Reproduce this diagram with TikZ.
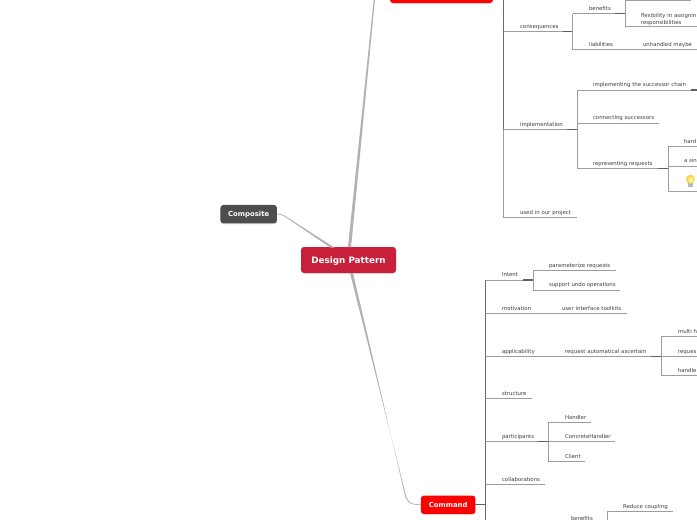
\documentclass[tikz,border=0pt]{standalone}
\usepackage{fontspec}
\setmainfont{DejaVu Sans}
\usetikzlibrary{calc,shadows}
\definecolor{rootred}{HTML}{C8203A}
\definecolor{topicred}{HTML}{FF0000}
\definecolor{topicgrey}{HTML}{4D4D4B}
\definecolor{linkgrey}{HTML}{B2B2B2}
\definecolor{textgrey}{HTML}{404040}
\definecolor{bulbyellow}{HTML}{F9CF3A}
\tikzset{
  every node/.style={font=\fontsize{5.4}{7}\selectfont},
  lbl/.style={anchor=south west,inner xsep=0pt,inner ysep=3.1pt,outer sep=0pt,text=textgrey,text depth=0pt,align=left},
  w/.style={text width=#1 pt},
  topic/.style={rounded corners=3pt,draw=none,inner sep=0pt,outer sep=0pt,text=white,
    font=\fontsize{6.9}{8}\selectfont\bfseries,drop shadow={opacity=.18,shadow xshift=0pt,shadow yshift=-.8pt}},
  branch/.style={draw=linkgrey!88!black,line width=1pt},
  trunk/.style={draw=black!58,line width=1pt},
  stub/.style={draw=black!62,line width=1.1pt},
  link/.style={fill=linkgrey,draw=none}
}
\begin{document}
\begin{tikzpicture}[x=1pt,y=-1pt]
\useasboundingbox (0,0) rectangle (697,520);
\clip (0,0) rectangle (697,520);
\fill[white] (0,0) rectangle (697,520);

% main topics
\node[topic,fill=rootred,minimum width=95pt,minimum height=26pt,text depth=0pt,font=\fontsize{8.8}{10}\selectfont\bfseries] (root) at (348.5,260) {Design Pattern};
\node[topic,fill=topicgrey,minimum width=56.5pt,minimum height=18.5pt] (composite) at (248.7,214.2) {Composite};
\node[topic,fill=topicred,minimum width=103pt,minimum height=30pt] (chain) at (441.5,-12) {};
\node[topic,fill=topicred,minimum width=54.5pt,minimum height=18.5pt] (command) at (448.2,504.8) {Command};

% tapered links from the root
\path[link] ($(root.north)+(-.5,0)$) -- ($(chain.west)+(-13,-20)$) -- ($(chain.west)+(-12,-20)$) -- ($(root.north)+(2.6,0)$) -- cycle;
\path[link] ($(root.south)+(1.5,0)$) -- ($(command.west)+(-15.6,-12)$)
  .. controls ($(command.west)+(-14,-3)$) and ($(command.west)+(-11,-.6)$) .. ($(command.west)+(0,-.4)$)
  -- ($(command.west)+(0,.3)$)
  .. controls ($(command.west)+(-12,.3)$) and ($(command.west)+(-15,-3)$) .. ($(command.west)+(-16.6,-12)$)
  -- ($(root.south)+(4.5,0)$) -- cycle;
\path[link] ($(root.north)+(-14,.6)$) -- ($(composite.east)+(8,1.6)$)
  .. controls ($(composite.east)+(5,-.4)$) and ($(composite.east)+(3,-.4)$) .. ($(composite.east)+(0,-.4)$)
  -- ($(composite.east)+(0,.3)$)
  .. controls ($(composite.east)+(3,.3)$) and ($(composite.east)+(5,.6)$) .. ($(composite.east)+(7.5,2.2)$)
  -- ($(root.north)+(-18,.6)$) -- cycle;

% upper tree
\coordinate (ttop) at (503.5,-10);
\node[lbl,w=42] (conseq) at (520,31.7) {consequences};
\node[lbl,w=84] (impl) at (520,129.3) {implementation};
\node[lbl,w=57] (used) at (520,217.7) {used in our project};
\draw[trunk] (ttop) -- (ttop |- impl.south);
\draw[branch] (ttop |- impl.south) -- (ttop |- used.south);
\draw[branch] (ttop |- conseq.south) -- (conseq.south east);
\draw[branch] (ttop |- impl.south) -- (impl.south west) -- ($(impl.south west)+(47,0)$);
\draw[branch] (ttop |- used.south) -- (used.south east);

\coordinate (jc) at (572.5,31.7);
\node[lbl,w=36] (benefits) at (589,13.5) {benefits};
\node[lbl,w=54] (liab) at (589,49.5) {liabilities};
\node[lbl,w=60] (unh) at (643,49.5) {unhandled maybe};
\draw[branch] (conseq.south) -- (jc);
\draw[stub] ($(jc)+(-10,0)$) -- (jc);
\draw[branch] (jc |- benefits.south) -- (jc |- liab.south);
\draw[branch] (jc |- benefits.south) -- (benefits.south east);
\draw[branch] (jc |- liab.south) -- (unh.south east);

\coordinate (jb) at (625,13.5);
\node[lbl,w=70,inner ysep=7.6pt,text depth=1.4pt] (flex) at (641,26) {flexibility in assignin\\responsibilities};
\coordinate (jbtop) at (625,0);
\coordinate (jbtopend) at (691,0);
\draw[stub] ($(jb)+(-10,0)$) -- (jb);
\draw[branch] (jbtopend) -- (jbtop) -- (jb |- flex.south) -- ($(flex.south east)+(0,0)$);

\coordinate (ji) at (577,129.3);
\node[lbl,w=104] (succ) at (593,90) {implementing the successor chain};
\node[lbl,w=66] (conn) at (593,123) {connecting successors};
\node[lbl,w=75] (repr) at (593,168.7) {representing requests};
\draw[stub] ($(ji)+(-10,0)$) -- (ji);
\draw[branch] (succ.south east) -- (ji |- succ.south) -- (ji |- repr.south) -- (repr.south east);
\draw[branch] (ji |- conn.south) -- (conn.south east);
\draw[stub] ($(succ.south east)+(-6,0)$) -- (succ.south east);

\coordinate (jr) at (668,168.7);
\node[lbl,w=20] (hard) at (684,146.5) {hard};
\node[lbl,w=20] (asin) at (684,166) {a sin};
\coordinate (bulbl) at (668,191);
\coordinate (bulbr) at (704,191);
\draw[stub] ($(jr)+(-10,0)$) -- (jr);
\draw[branch] (hard.south east) -- (jr |- hard.south) -- (bulbl) -- (bulbr);
\draw[branch] (jr |- asin.south) -- (asin.south east);
% bulb
\fill[black!28] (688.2,183.2) rectangle (692.8,187.3);
\shade[inner color=yellow!25,outer color=bulbyellow] (690.5,179.3) circle (4.5);

% lower tree
\coordinate (tl) at (485.5,280);
\coordinate (tlend) at (485.5,530);
\draw[trunk] (tl) -- (tlend);
\draw[stub] (command.east) -- (command.east -| tl);

\node[lbl,w=31] (intent) at (502,280) {Intent};
\coordinate (ji2) at (533,280);
\node[lbl,w=67] (param) at (549,270.5) {parameterize requests};
\node[lbl,w=71] (undo) at (549,290) {support undo operations};
\draw[branch] (tl |- intent.south) -- (ji2);
\draw[stub] ($(ji2)+(-10,0)$) -- (ji2);
\draw[branch] (param.south east) -- (ji2 |- param.south) -- (ji2 |- undo.south) -- (undo.south east);

\node[lbl,w=55] (motiv) at (502,313.3) {motivation};
\node[lbl,w=65] (uitk) at (562,313.3) {user interface toolkits};
\draw[branch] (tl |- motiv.south) -- (uitk.south east);

\node[lbl,w=58] (appl) at (502,356.3) {applicability};
\node[lbl,w=96] (ascert) at (565,356.3) {request automatical ascertain};
\coordinate (ja) at (661,356.3);
\node[lbl,w=25] (multi) at (678,336.7) {multi h};
\node[lbl,w=25] (reqs) at (678,356.3) {reques};
\node[lbl,w=25] (handle) at (678,375.3) {handle};
\draw[branch] (tl |- appl.south) -- (ja);
\draw[stub] ($(ja)+(-10,0)$) -- (ja);
\draw[branch] (multi.south east) -- (ja |- multi.south) -- (ja |- handle.south) -- (handle.south east);
\draw[branch] (ja) -- (reqs.south east);

\node[lbl,w=30] (struct) at (502,398.7) {structure};
\draw[branch] (tl |- struct.south) -- (struct.south east);

\node[lbl,w=46] (partic) at (502,441.7) {participants};
\coordinate (jp) at (548.3,441.7);
\node[lbl,w=26] (handler) at (565,422.3) {Handler};
\node[lbl,w=50] (concrete) at (565,441.7) {ConcreteHandler};
\node[lbl,w=20] (client) at (565,461.3) {Client};
\draw[branch] (tl |- partic.south) -- (jp);
\draw[stub] ($(jp)+(-10,0)$) -- (jp);
\draw[branch] (handler.south east) -- (jp |- handler.south) -- (jp |- client.south) -- (client.south east);
\draw[branch] (jp) -- (concrete.south east);

\node[lbl,w=43] (collab) at (502,484.3) {collaborations};
\draw[branch] (tl |- collab.south) -- (collab.south east);

\node[lbl,w=30] (lbenefits) at (571,523.2) {benefits};
\coordinate (jlb) at (607,522.2);
\node[lbl,w=50] (reduce) at (623,511.3) {Reduce coupling};
\draw[branch] (reduce.south east) -- (jlb |- reduce.south) -- ($(jlb)+(0,10)$);
\end{tikzpicture}
\end{document}
